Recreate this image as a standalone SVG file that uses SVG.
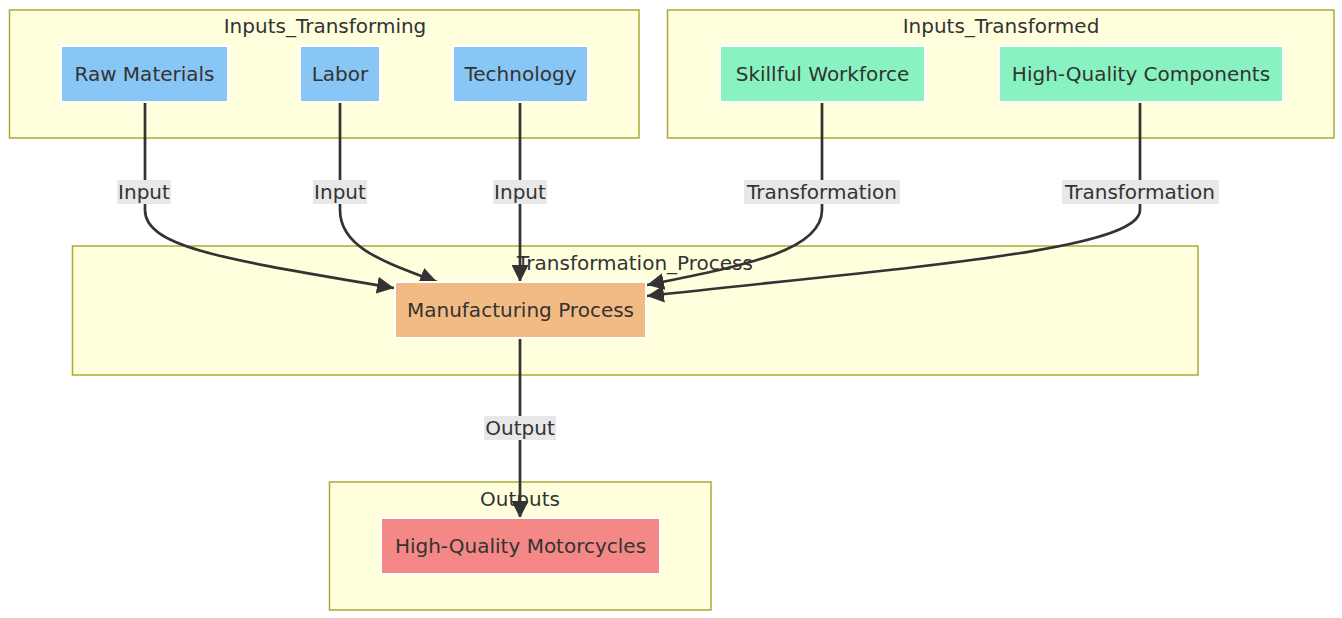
<svg xmlns="http://www.w3.org/2000/svg" width="1342" height="618" viewBox="0 0 1342 618">
<style>
.cluster{fill:#ffffde;stroke:#aaaa33;stroke-width:1.5}
.ctitle{font-family:"DejaVu Sans",sans-serif;font-size:20px;fill:#333;text-anchor:middle}
.node rect{stroke:#ffffff;stroke-width:2}
.node text{font-family:"DejaVu Sans",sans-serif;font-size:20px;fill:#333;text-anchor:middle;dominant-baseline:central}
.blue{fill:#88c6f5}.green{fill:#88f2c0}.orange{fill:#f3bb84}.red{fill:#f38886}
.edge{fill:none;stroke:#333;stroke-width:2.7}
.lbl rect{fill:#e8e8e8}
.lbl text{font-family:"DejaVu Sans",sans-serif;font-size:20px;fill:#333;text-anchor:middle;dominant-baseline:central}
</style>
<defs>
<marker id="arrow" viewBox="0 0 10 10" refX="10" refY="5" markerUnits="userSpaceOnUse" markerWidth="17" markerHeight="17" orient="auto">
<path d="M0,0 L10,5 L0,10 z" fill="#333"/>
</marker>
</defs>
<g id="clusters">
<g id="Inputs_Transforming"><rect class="cluster" x="9.5" y="10" width="629.5" height="128"/><text class="ctitle" x="325" y="33">Inputs_Transforming</text></g>
<g id="Inputs_Transformed"><rect class="cluster" x="667.5" y="10" width="666.5" height="128"/><text class="ctitle" x="1001" y="33">Inputs_Transformed</text></g>
<g id="Transformation_Process"><rect class="cluster" x="72.5" y="246" width="1125.5" height="129"/><text class="ctitle" x="635" y="270">Transformation_Process</text></g>
<g id="Outputs"><rect class="cluster" x="329.5" y="482" width="381.5" height="128"/><text class="ctitle" x="520" y="506">Outputs</text></g>
</g>
<g id="connectors">
<path class="edge" d="M145,103 V210 C145,248 230,260 394,288" marker-end="url(#arrow)"/>
<path class="edge" d="M340,103 V210 C340,248 385,262 437,282" marker-end="url(#arrow)"/>
<path class="edge" d="M520,103 V282" marker-end="url(#arrow)"/>
<path class="edge" d="M822,103 V210 C822,252 740,266 647,285" marker-end="url(#arrow)"/>
<path class="edge" d="M1140,103 V210 C1140,250 920,266 647,296" marker-end="url(#arrow)"/>
<path class="edge" d="M520,339 V518" marker-end="url(#arrow)"/>
<g class="lbl"><rect x="117" y="180" width="54" height="24"/><text x="144" y="192">Input</text></g>
<g class="lbl"><rect x="313" y="180" width="54" height="24"/><text x="340" y="192">Input</text></g>
<g class="lbl"><rect x="493" y="180" width="54" height="24"/><text x="520" y="192">Input</text></g>
<g class="lbl"><rect x="744" y="180" width="156" height="24"/><text x="822" y="192">Transformation</text></g>
<g class="lbl"><rect x="1062" y="180" width="157" height="24"/><text x="1140" y="192">Transformation</text></g>
<g class="lbl"><rect x="484" y="416" width="72" height="24"/><text x="520" y="428">Output</text></g>
</g>
<g id="RawMaterials" class="node"><rect class="blue" x="61" y="46" width="167" height="56"/><text x="144.5" y="74">Raw Materials</text></g>
<g id="Labor" class="node"><rect class="blue" x="300" y="46" width="80" height="56"/><text x="340" y="74">Labor</text></g>
<g id="Technology" class="node"><rect class="blue" x="453" y="46" width="135" height="56"/><text x="520.5" y="74">Technology</text></g>
<g id="SkillfulWorkforce" class="node"><rect class="green" x="720" y="46" width="205" height="56"/><text x="822.5" y="74">Skillful Workforce</text></g>
<g id="HighQualityComponents" class="node"><rect class="green" x="999" y="46" width="284" height="56"/><text x="1141" y="74">High-Quality Components</text></g>
<g id="ManufacturingProcess" class="node"><rect class="orange" x="395" y="282" width="251" height="56"/><text x="520.5" y="310">Manufacturing Process</text></g>
<g id="HighQualityMotorcycles" class="node"><rect class="red" x="381" y="518" width="279" height="56"/><text x="520.5" y="546">High-Quality Motorcycles</text></g>
</svg>
